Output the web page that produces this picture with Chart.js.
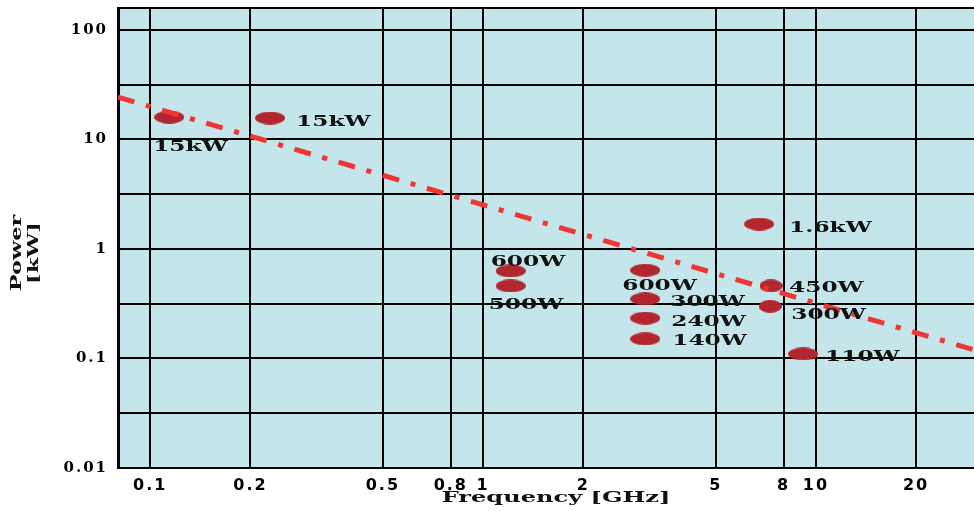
<!DOCTYPE html>
<html lang="en">
<head>
<meta charset="UTF-8">
<title>Power vs Frequency</title>
<script src="https://cdn.jsdelivr.net/npm/chart.js"></script>
<style>
  html, body { margin: 0; padding: 0; background: #fff; }
  #wrap { width: 974px; height: 511px; }
</style>
</head>
<body>
<div id="wrap"><canvas id="powerChart"></canvas></div>
<script>
// devices: frequency [GHz], power [kW] and the text written next to each
const freqs  = [0.114, 0.229, 1.21, 1.21, 3.07, 3.07, 3.07, 3.07, 7.33, 7.29, 6.75, 9.15];
const powers = [16.0, 15.7, 0.63, 0.46, 0.64, 0.35, 0.234, 0.151, 0.46, 0.30, 1.69, 0.11];
const pointLabels = ['15kW', '15kW', '600W', '500W', '600W', '300W', '240W', '140W', '450W', '300W', '1.6kW', '110W'];

// dash-dot limit line (end points)
const limitFreqs  = [0.08, 29.85];
const limitPowers = [24.4, 0.12];

// grid / tick values
const xTicks = [0.1, 0.2, 0.5, 0.8, 1, 2, 5, 8, 10, 20];
const yGrid = [0.01, 0.0316, 0.1, 0.316, 1, 3.16, 10, 31.6, 100, 158.8];
const yLabels = [0.01, 0.1, 1, 10, 100];

// styling of the markers and where each label sits relative to its marker
const bigDot = [30, 13];
const smallDot = [23, 13];
const dotSizes = [bigDot, bigDot, bigDot, bigDot, bigDot, bigDot, bigDot, bigDot, smallDot, smallDot, bigDot, bigDot];
const labelOffsets = [[-16, 30], [26, 4], [-20, -9], [-22, 19], [-23, 16], [25, 3], [26, 4], [27, 2], [18, 2], [21, 9], [30, 4], [22, 3]];

const dotColor = '#b2262f';
const serifBold = 'bold 15px "DejaVu Serif"';

function ellipse(w, h) {
    const c = document.createElement('canvas');
    c.width = w;
    c.height = h;
    const g = c.getContext('2d');
    g.fillStyle = dotColor;
    g.beginPath();
    g.ellipse(w / 2, h / 2, w / 2, h / 2, 0, 0, Math.PI * 2);
    g.fill();
    return c;
}

function wideText(ctx, text, x, y, sx, align, angle) {
    ctx.save();
    ctx.translate(x, y);
    if (angle) ctx.rotate(angle);
    ctx.scale(sx, 1);
    ctx.textAlign = align;
    ctx.textBaseline = 'middle';
    ctx.fillText(text, 0, 0);
    ctx.restore();
}

// light blue plot area, and slightly spaced tick lettering
const backdrop = {
    id: 'backdrop',
    beforeDraw(chart) {
        const { ctx, chartArea: a } = chart;
        ctx.save();
        ctx.fillStyle = '#c4e6ea';
        ctx.fillRect(a.left, a.top, a.right - a.left, a.bottom - a.top);
        ctx.restore();
        ctx.letterSpacing = '2px';
    }
};

// marker captions and axis titles
const captions = {
    id: 'captions',
    afterDraw(chart) {
        const ctx = chart.ctx;
        const meta = chart.getDatasetMeta(1);
        ctx.save();
        ctx.letterSpacing = '0px';
        ctx.fillStyle = '#111';
        ctx.font = serifBold;
        meta.data.forEach((pt, i) => {
            const [dx, dy] = labelOffsets[i];
            wideText(ctx, pointLabels[i], pt.x + dx, pt.y + dy, 1.55, 'left');
        });
        ctx.font = 'bold 14px "DejaVu Serif"';
        wideText(ctx, 'Frequency [GHz]', 556, 498, 1.72, 'center');
        wideText(ctx, 'Power', 17, 253, 1.6, 'center', -Math.PI / 2);
        wideText(ctx, '[kW]', 34, 253, 1.6, 'center', -Math.PI / 2);
        ctx.restore();
    }
};

const ctx = document.getElementById('powerChart').getContext('2d');

new Chart(ctx, {
    data: {
        datasets: [{
            type: 'line',
            data: limitFreqs.map((f, i) => ({ x: f, y: limitPowers[i] })),
            borderColor: '#f03535',
            borderWidth: 5,
            borderDash: [17, 12, 5, 12],
            borderCapStyle: 'butt',
            pointRadius: 0,
            fill: false,
            order: 0
        }, {
            type: 'scatter',
            data: freqs.map((f, i) => ({ x: f, y: powers[i] })),
            pointStyle: dotSizes.map(s => ellipse(s[0], s[1])),
            pointRadius: 8,
            order: 1
        }]
    },
    options: {
        responsive: true,
        maintainAspectRatio: false,
        animation: false,
        layout: { autoPadding: false, padding: { top: 8, left: 0, right: 0, bottom: 0 } },
        plugins: { legend: { display: false }, tooltip: { enabled: false } },
        scales: {
            x: {
                type: 'logarithmic',
                min: 0.08,
                max: 29.85,
                afterFit: s => { s.height = 43; s.paddingLeft = 0; s.paddingRight = 0; },
                afterBuildTicks: s => { s.ticks = xTicks.map(v => ({ value: v })); },
                grid: { color: '#000', lineWidth: 2, drawTicks: false },
                border: { color: '#000', width: 2 },
                ticks: {
                    autoSkip: false,
                    maxRotation: 0,
                    padding: 8,
                    color: '#000',
                    font: { family: 'DejaVu Sans', size: 16, weight: 'bold' },
                    callback: v => String(v)
                }
            },
            y: {
                type: 'logarithmic',
                min: 0.01,
                max: 158.8,
                afterFit: s => { s.width = 118; s.paddingTop = 0; s.paddingBottom = 0; },
                afterBuildTicks: s => { s.ticks = yGrid.map(v => ({ value: v })); },
                grid: { color: '#000', lineWidth: 2, drawTicks: false },
                border: { color: '#000', width: 3 },
                ticks: {
                    autoSkip: false,
                    padding: 10,
                    color: '#000',
                    font: { family: 'DejaVu Serif', size: 15, weight: 'bold' },
                    callback: v => yLabels.includes(v) ? String(v) : ''
                }
            }
        }
    },
    plugins: [backdrop, captions]
});
</script>
</body>
</html>
